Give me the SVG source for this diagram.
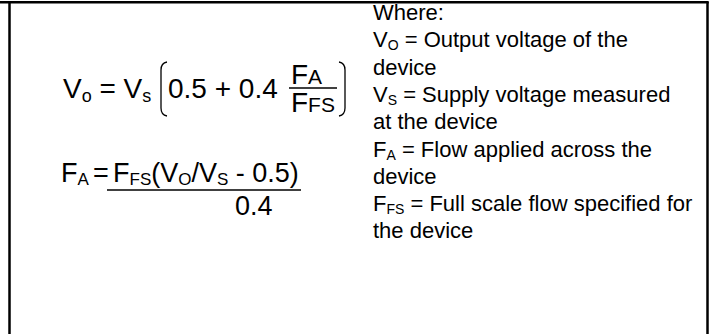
<svg xmlns="http://www.w3.org/2000/svg" width="711" height="334" viewBox="0 0 711 334">
<style>
text{font-family:"Liberation Sans",Arial,sans-serif;fill:#000}
.e1{font-size:28px}
.s1{font-size:18px}
.fr{font-size:21px}
.e2{font-size:27px}
.s2{font-size:17px}
.note{font-size:22px}
.ns{font-size:14px}
.frame{stroke:#000;stroke-width:2.5;fill:none}
.br{stroke:#000;stroke-width:1.3;fill:none}
.bar{stroke:#000;stroke-width:1.5}
</style>
<rect width="711" height="334" fill="#fff"/>
<g id="frame">
<line class="frame" x1="0" y1="2.2" x2="708.7" y2="2.2"/>
<line class="frame" x1="9.5" y1="2" x2="9.5" y2="334"/>
<line class="frame" x1="707.5" y1="2" x2="707.5" y2="334"/>
</g>
<g id="equation1">
<text class="e1" x="63" y="98">V<tspan class="s1" dy="4">o</tspan><tspan dy="-4"> = V</tspan><tspan class="s1" dy="4">s</tspan></text>
<path class="br" d="M167,62 Q161,63 161,70 L161,108 Q161,115 167,116"/>
<text class="e1" x="168" y="98">0.5 + 0.4</text>
<text class="e1" x="291" y="84">F<tspan class="fr">A</tspan></text>
<line class="bar" x1="289" y1="88" x2="337" y2="88"/>
<text class="e1" x="291" y="112">F<tspan class="fr">FS</tspan></text>
<path class="br" d="M339,62 Q345,63 345,70 L345,108 Q345,115 339,116"/>
</g>
<g id="equation2">
<text class="e2" x="61" y="182">F<tspan class="s2" dy="3">A</tspan></text>
<text class="e2" x="93" y="182">=</text>
<text class="e2" x="113" y="182">F<tspan class="s2" dy="3">FS</tspan><tspan dy="-3">(V</tspan><tspan class="s2" dy="3">O</tspan><tspan dy="-3">/V</tspan><tspan class="s2" dy="3">S</tspan><tspan dy="-3"> - 0.5)</tspan></text>
<line class="bar" x1="107" y1="190" x2="301" y2="190"/>
<text class="e2" x="235" y="215">0.4</text>
</g>
<g id="legend">
<text class="note" x="373" y="20">Where:</text>
<text class="note" x="373" y="47">V<tspan class="ns" dy="3">O</tspan><tspan dy="-3"> = Output voltage of the</tspan></text>
<text class="note" x="373" y="75">device</text>
<text class="note" x="373" y="102">V<tspan class="ns" dy="3">S</tspan><tspan dy="-3"> = Supply voltage measured</tspan></text>
<text class="note" x="373" y="129">at the device</text>
<text class="note" x="373" y="157">F<tspan class="ns" dy="3">A</tspan><tspan dy="-3"> = Flow applied across the</tspan></text>
<text class="note" x="373" y="184">device</text>
<text class="note" x="373" y="211">F<tspan class="ns" dy="3">FS</tspan><tspan dy="-3"> = Full scale flow specified for</tspan></text>
<text class="note" x="373" y="238">the device</text>
</g>
</svg>
